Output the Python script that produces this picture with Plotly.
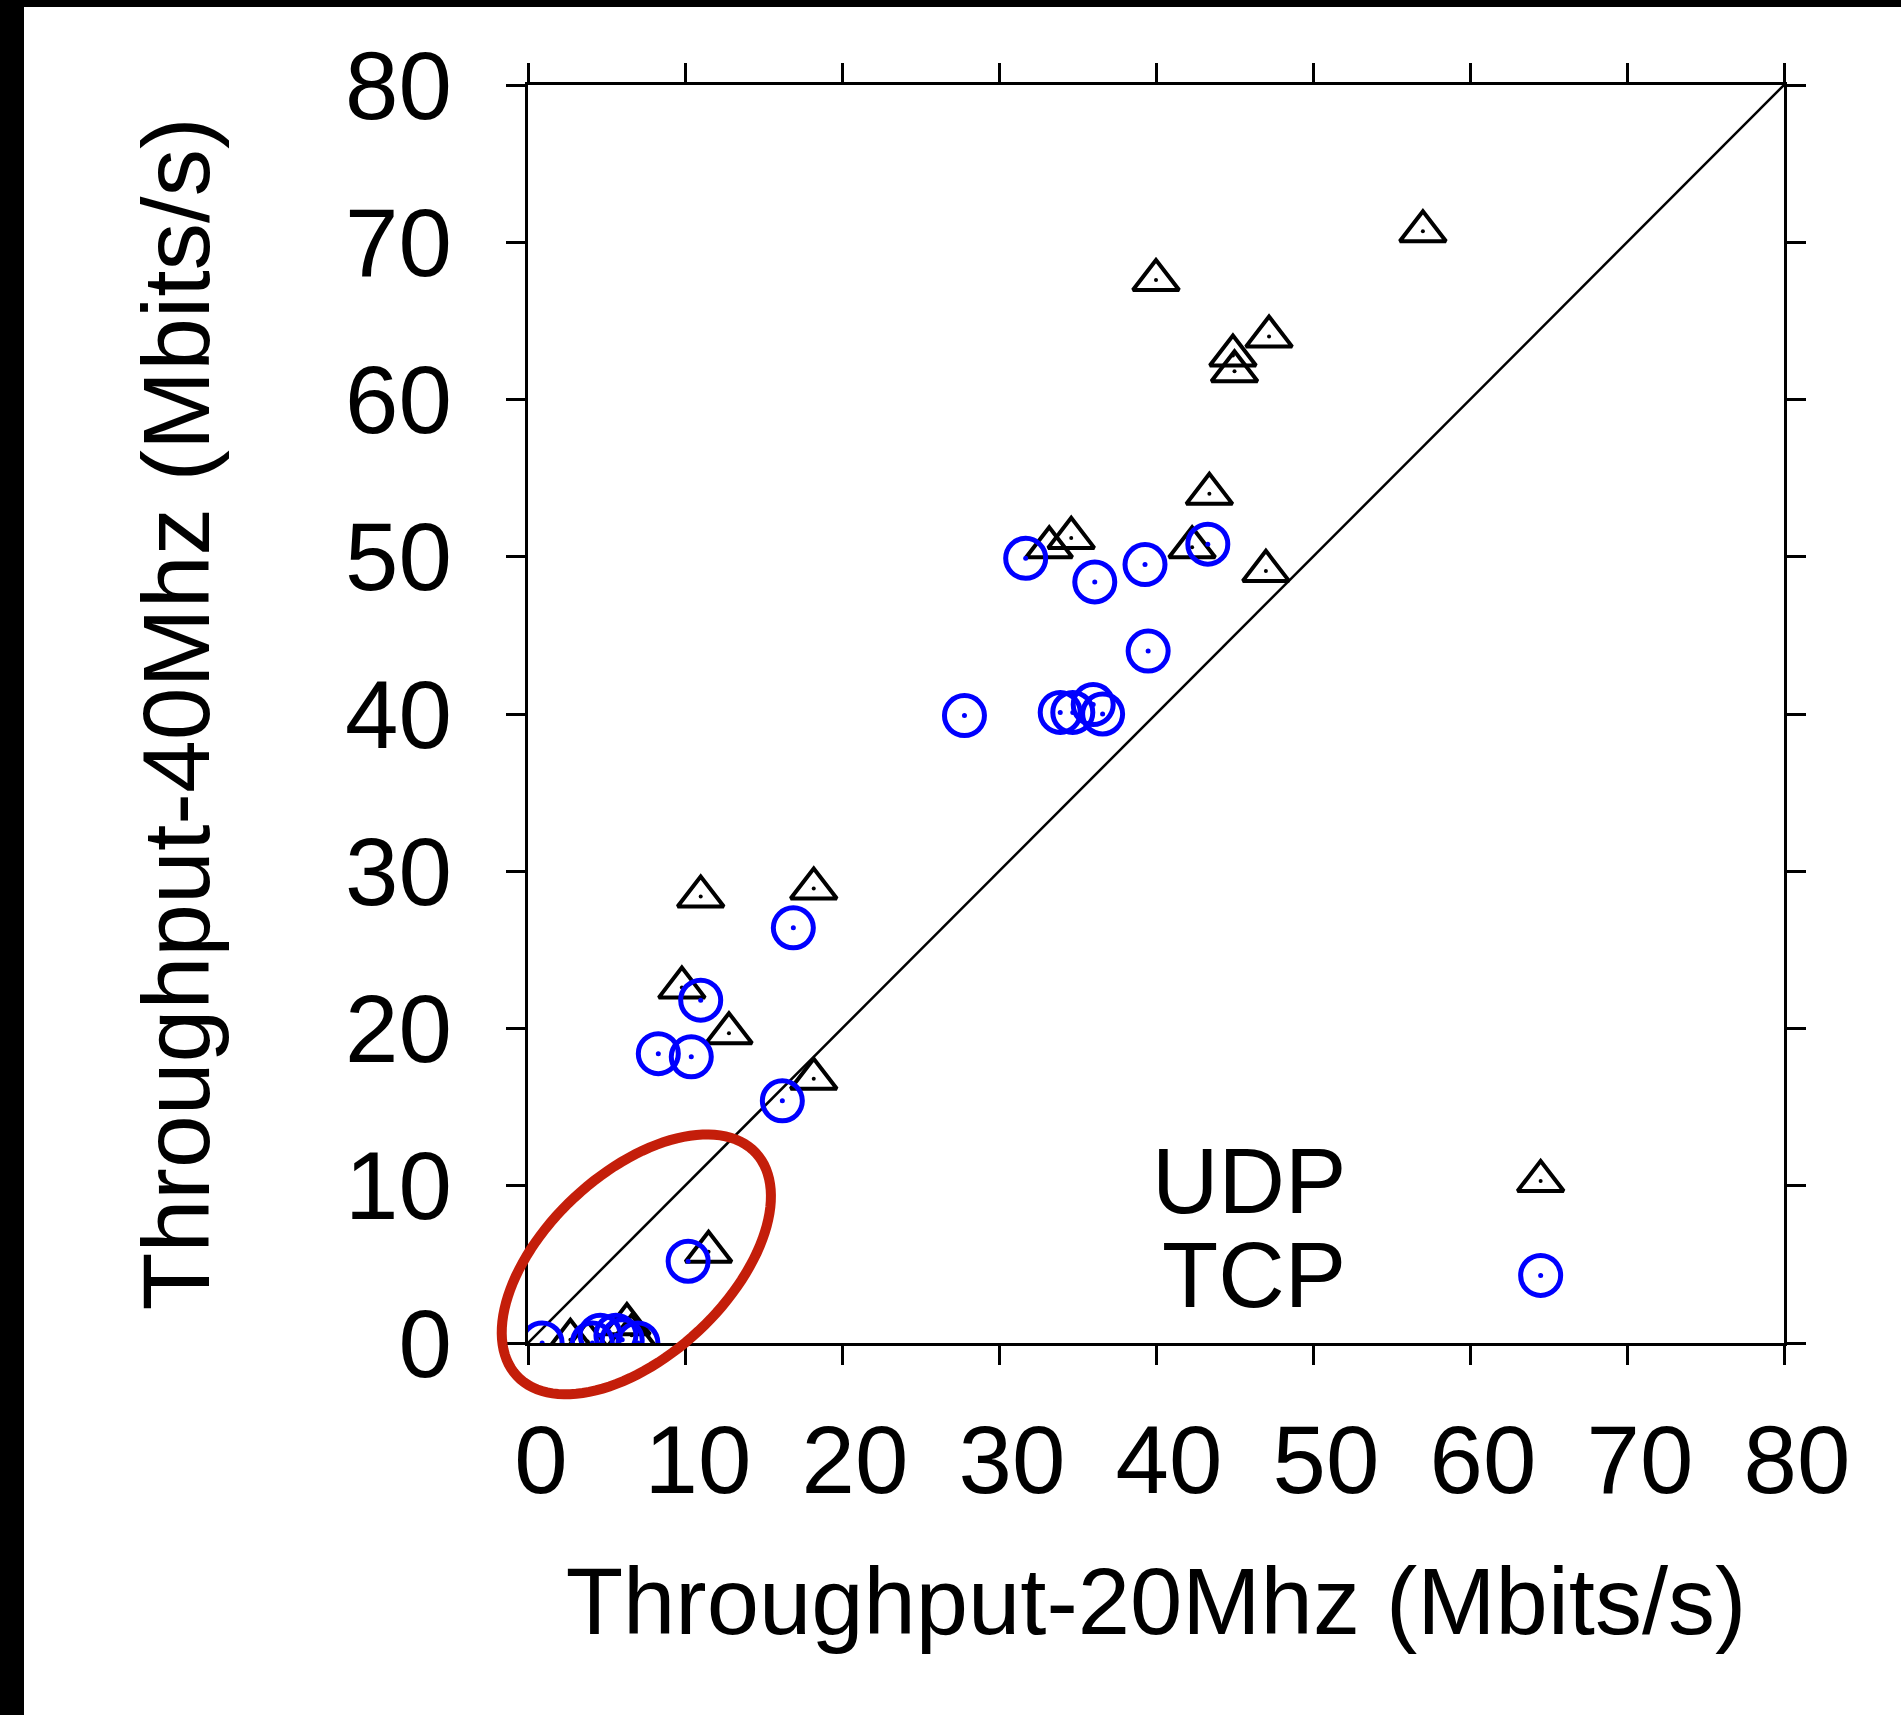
import numpy as np
import plotly.graph_objects as go

# ---------------- data ----------------
udp_x = [11.0, 18.2, 9.8, 12.8, 18.2, 11.5, 2.7, 3.8, 6.3, 6.6,
         33.2, 34.6, 42.3, 47.0, 43.4, 40.0, 57.0, 47.2, 44.9, 45.0]
udp_y = [28.4, 28.9, 22.6, 19.7, 16.8, 5.8, 0.2, 0.1, 1.2, 0.5,
         50.6, 51.2, 50.6, 49.1, 54.0, 67.6, 70.7, 64.0, 62.8, 61.8]

tcp_x = [16.9, 11.0, 8.3, 10.4, 16.2, 10.2, 0.9, 4.1, 4.6, 5.6, 6.0, 7.0,
         31.7, 36.1, 39.3, 43.3, 39.5, 33.9, 34.7, 36.0, 36.6, 27.8]
tcp_y = [26.4, 21.8, 18.4, 18.2, 15.4, 5.2, 0.0, 0.0, 0.5, 0.5, 0.2, 0.0,
         49.9, 48.4, 49.5, 50.8, 44.0, 40.1, 40.1, 40.6, 40.0, 39.9]

diag = [0, 80]
x_ticks = [0, 10, 20, 30, 40, 50, 60, 70, 80]
y_ticks = [0, 10, 20, 30, 40, 50, 60, 70, 80]
series_names = ["UDP", "TCP"]
legend_text_x = 52.2
legend_sym_x = 64.5
legend_y = [10.3, 4.3]

x_title = "Throughput-20Mhz (Mbits/s)"
y_title = "Throughput-40Mhz (Mbits/s)"

# highlight ellipse (annotation) in data units
ell_cx, ell_cy, ell_a, ell_b, ell_ang = 6.9, 5.0, 10.4, 5.8, 43.0
AX_MAX = 80.0

# ---------------- figure ----------------
W, H = 1901, 1715
L, R, T, B = 528, 117, 85, 372
pw, ph = W - L - R, H - T - B
FONT = "Liberation Sans, Arial, Helvetica, sans-serif"

UDP_M = dict(symbol="triangle-up-open", size=40, color="black",
             line=dict(width=4, color="black"))
TCP_M = dict(symbol="circle-open", size=40, color="#0000ff",
             line=dict(width=5, color="#0000ff"))
UDP_DOT = dict(symbol="circle", size=4, color="black", line=dict(width=0))
TCP_DOT = dict(symbol="circle", size=5, color="#0000ff", line=dict(width=0))

fig = go.Figure()

fig.add_trace(go.Scatter(x=diag, y=diag, mode="lines",
                         line=dict(color="black", width=2.5),
                         showlegend=False, hoverinfo="skip"))

fig.add_trace(go.Scatter(x=udp_x, y=udp_y, mode="markers", name="UDP",
                         marker=UDP_M, showlegend=False))
fig.add_trace(go.Scatter(x=udp_x, y=udp_y, mode="markers", marker=UDP_DOT,
                         showlegend=False, hoverinfo="skip"))
fig.add_trace(go.Scatter(x=tcp_x, y=tcp_y, mode="markers", name="TCP",
                         marker=TCP_M, showlegend=False))
fig.add_trace(go.Scatter(x=tcp_x, y=tcp_y, mode="markers", marker=TCP_DOT,
                         showlegend=False, hoverinfo="skip"))

# legend samples (gnuplot style: text then symbol)
for m, d, yy in ((UDP_M, UDP_DOT, legend_y[0]), (TCP_M, TCP_DOT, legend_y[1])):
    fig.add_trace(go.Scatter(x=[legend_sym_x], y=[yy], mode="markers", marker=m,
                             showlegend=False, hoverinfo="skip"))
    fig.add_trace(go.Scatter(x=[legend_sym_x], y=[yy], mode="markers", marker=d,
                             showlegend=False, hoverinfo="skip"))
for name, yy in zip(series_names, legend_y):
    fig.add_annotation(x=legend_text_x, y=yy, xref="x", yref="y", text=name,
                       showarrow=False, xanchor="right", yanchor="middle",
                       font=dict(family=FONT, size=92, color="black"))

# ellipse path (paper coordinates so it is not clipped by the plot area)
t = np.linspace(0, 2 * np.pi, 121)
th = np.deg2rad(ell_ang)
ex = ell_cx + ell_a * np.cos(t) * np.cos(th) - ell_b * np.sin(t) * np.sin(th)
ey = ell_cy + ell_a * np.cos(t) * np.sin(th) + ell_b * np.sin(t) * np.cos(th)
path = "M " + " L ".join(f"{a / AX_MAX:.5f},{b / AX_MAX:.5f}" for a, b in zip(ex, ey)) + " Z"
fig.add_shape(type="path", path=path, xref="paper", yref="paper",
              line=dict(color="#c41e0a", width=10), layer="above")

# black border strips of the original image (left and top)
fig.add_shape(type="rect", xref="paper", yref="paper",
              x0=-L / pw, x1=(24 - L) / pw, y0=-B / ph, y1=1 + T / ph,
              fillcolor="black", line=dict(width=0), layer="above")
fig.add_shape(type="rect", xref="paper", yref="paper",
              x0=-L / pw, x1=1 + R / pw, y0=1 + (T - 7) / ph, y1=1 + T / ph,
              fillcolor="black", line=dict(width=0), layer="above")

axis_common = dict(range=[0, AX_MAX], showgrid=False, zeroline=False,
                   ticks="outside", ticklen=19, tickwidth=2.5, tickcolor="black",
                   showline=True, linecolor="black", linewidth=3, mirror="ticks",
                   tickfont=dict(family=FONT, size=96, color="black"),
                   automargin=False)

fig.update_xaxes(**axis_common, tickvals=x_ticks, ticktext=[str(v) for v in x_ticks],
                 ticklabelshift=13, ticklabelstandoff=13,
                 title=dict(text=x_title, font=dict(family=FONT, size=94, color="black"),
                            standoff=56))
fig.update_yaxes(**axis_common, tickvals=y_ticks, ticktext=[str(v) for v in y_ticks],
                 ticklabelstandoff=35,
                 title=dict(text=y_title, font=dict(family=FONT, size=95, color="black"),
                            standoff=104))

fig.update_layout(width=W, height=H, margin=dict(l=L, r=R, t=T, b=B, pad=0),
                  paper_bgcolor="white", plot_bgcolor="white",
                  font=dict(family=FONT, color="black"))

fig.write_html("out.html", config={"displayModeBar": False},
               post_script=("document.documentElement.style.margin='0';"
                            "document.documentElement.style.overflow='hidden';"
                            "document.body.style.margin='0';"
                            "document.body.style.overflow='hidden';"))
